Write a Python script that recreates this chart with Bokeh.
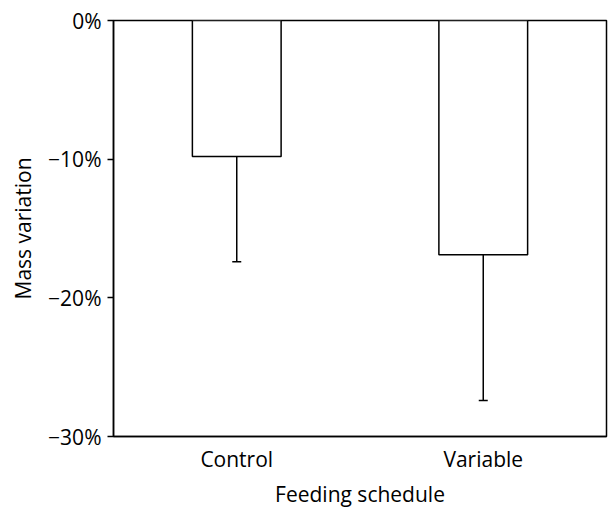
from bokeh.plotting import figure
from bokeh.models import ColumnDataSource, Range1d, FactorRange, FixedTicker, Whisker, TeeHead
from bokeh.embed import file_html
from bokeh.resources import INLINE

categories = ["Control", "Variable"]
mean_change = [-9.8, -16.9]
err_low = [-17.4, -27.4]
y_ticks = [-30, -20, -10, 0]
y_tick_labels = ["\u221230%", "\u221220%", "\u221210%", "0%"]

FONT = "Open Sans"

src = ColumnDataSource(dict(cat=categories, top=[0, 0], bottom=mean_change, low=err_low))

p = figure(width=608, height=510, x_range=FactorRange(*categories), y_range=Range1d(-30, 0),
           output_backend="svg", toolbar_location=None,
           min_border_left=113, min_border_right=2, min_border_top=20, min_border_bottom=74)

p.vbar(x="cat", top="top", bottom="bottom", width=0.36, source=src,
       fill_color="white", line_color="black", line_width=1.5)

wh = Whisker(base="cat", upper="bottom", lower="low", source=src,
             upper_head=None, lower_head=TeeHead(size=9, line_color="black", line_width=1.5),
             line_color="black", line_width=1.5)
p.add_layout(wh)

p.xgrid.visible = False
p.ygrid.visible = False
p.outline_line_color = "black"
p.outline_line_width = 1.5
p.outline_line_alpha = 1

p.yaxis.ticker = FixedTicker(ticks=y_ticks)
p.yaxis.major_label_overrides = {t: l for t, l in zip(y_ticks, y_tick_labels)}
p.yaxis.minor_tick_line_color = None
p.yaxis.major_tick_out = 6
p.yaxis.major_tick_in = 0
p.yaxis.major_tick_line_width = 1.5
p.yaxis.axis_line_width = 1.5
p.yaxis.major_label_standoff = 6
p.yaxis.axis_label = "Mass variation"

p.xaxis.major_tick_line_color = None
p.xaxis.major_tick_out = 0
p.xaxis.major_tick_in = 0
p.xaxis.axis_line_width = 1.5
p.xaxis.major_label_standoff = 8
p.xaxis.axis_label = "Feeding schedule"

for ax in (p.xaxis[0], p.yaxis[0]):
    ax.major_label_text_font = FONT
    ax.major_label_text_font_size = "21px"
    ax.major_label_text_color = "black"
    ax.axis_label_text_font = FONT
    ax.axis_label_text_font_size = "21px"
    ax.axis_label_text_font_style = "normal"
    ax.axis_label_text_color = "black"
    ax.axis_line_color = "black"

p.yaxis.axis_label_standoff = 8
p.xaxis.axis_label_standoff = 4

open("out.html", "w").write(file_html(p, INLINE))
